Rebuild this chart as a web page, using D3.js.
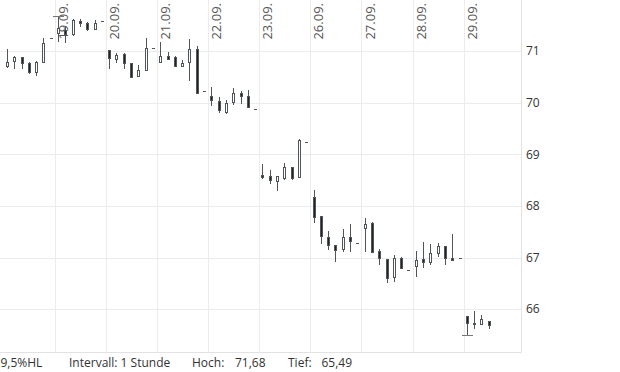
<!DOCTYPE html>
<html>
<head>
<meta charset="utf-8">
<script src="https://cdn.jsdelivr.net/npm/d3@7"></script>
<style>
  body { margin: 0; background: #fff; }
  svg { display: block; font-family: "Open Sans", sans-serif; }
</style>
</head>
<body>
<svg id="chart" width="620" height="372"></svg>
<script>
// trading days, 7 hourly slots per day (last slot = single tick)
var days = ["16.09.", "19.09.", "20.09.", "21.09.", "22.09.", "23.09.", "26.09.", "27.09.", "28.09.", "29.09."];
var slotsPerDay = 7;
var yTicks = [66, 67, 68, 69, 70, 71];

var opens = [
  70.71, 70.81, 70.88, 70.77, 70.59, 70.79, 71.25,
  71.35, 71.41, 71.34, 71.59, 71.55, 71.42, 71.58,
  71.02, 70.85, 70.95, 70.76, 70.52, 70.63, 71.06,
  70.79, 70.90, 70.88, 70.72, 70.79, 71.05, 70.22,
  70.13, 70.03, 69.82, 70.02, 70.19, 70.13, 69.88,
  68.60, 68.58, 68.49, 68.55, 68.75, 68.56, 69.23,
  68.17, 67.80, 67.40, 67.25, 67.17, 67.39, 67.29,
  67.58, 67.66, 67.12, 66.98, 66.63, 67.00, 66.76,
  66.84, 66.97, 66.92, 67.09, 67.22, 67.00, 67.00,
  65.86, 65.72, 65.71, 65.77
];
var highs = [
  71.04, 70.90, 70.89, 70.78, 70.81, 71.25, 71.25,
  71.68, 71.48, 71.62, 71.62, 71.57, 71.60, 71.58,
  71.03, 70.97, 70.97, 70.77, 70.73, 71.25, 71.06,
  71.18, 70.99, 70.90, 70.83, 71.23, 71.10, 70.22,
  70.30, 70.11, 70.05, 70.28, 70.23, 70.24, 69.88,
  68.81, 68.69, 68.58, 68.84, 68.76, 69.30, 69.23,
  68.31, 67.80, 67.51, 67.25, 67.55, 67.65, 67.29,
  67.76, 67.69, 67.16, 66.98, 67.05, 67.01, 66.76,
  67.12, 67.30, 67.27, 67.29, 67.22, 67.45, 67.00,
  65.86, 65.96, 65.88, 65.77
];
var lows = [
  70.67, 70.65, 70.65, 70.55, 70.52, 70.77, 71.25,
  71.18, 71.16, 71.29, 71.47, 71.39, 71.42, 71.58,
  70.65, 70.76, 70.65, 70.48, 70.51, 70.62, 71.06,
  70.79, 70.83, 70.70, 70.70, 70.42, 70.17, 70.22,
  69.93, 69.80, 69.79, 69.95, 69.97, 69.89, 69.88,
  68.53, 68.42, 68.29, 68.51, 68.51, 68.55, 69.23,
  67.67, 67.26, 67.14, 66.92, 67.11, 67.11, 67.29,
  67.11, 67.09, 66.85, 66.50, 66.53, 66.77, 66.76,
  66.63, 66.80, 66.85, 67.01, 66.85, 66.96, 67.00,
  65.49, 65.61, 65.71, 65.61
];
var closes = [
  70.79, 70.88, 70.77, 70.59, 70.79, 71.15, 71.25,
  71.44, 71.33, 71.60, 71.54, 71.42, 71.55, 71.58,
  70.86, 70.92, 70.76, 70.50, 70.63, 71.06, 71.06,
  70.90, 70.85, 70.72, 70.77, 71.05, 70.19, 70.22,
  70.05, 69.86, 70.00, 70.19, 70.13, 69.91, 69.88,
  68.56, 68.51, 68.58, 68.75, 68.55, 69.28, 69.23,
  67.79, 67.42, 67.25, 67.14, 67.39, 67.32, 67.29,
  67.65, 67.10, 67.00, 66.61, 67.00, 66.79, 66.76,
  66.96, 66.92, 67.08, 67.23, 66.99, 66.96, 67.00,
  65.74, 65.73, 65.80, 65.70
];

var infoLabel = "9,5%HL";
var intervalLabel = "Intervall: 1 Stunde";

var data = opens.map(function(o, i) {
  return {
    day: days[Math.floor(i / slotsPerDay)],
    slot: i % slotsPerDay,
    open: o, high: highs[i], low: lows[i], close: closes[i]
  };
});

var plotW = 521, plotH = 352;
var svg = d3.select("#chart");

var x0 = d3.scaleBand().domain(days).range([3.8, 514.8]).padding(0);
var x1 = d3.scaleBand().domain(d3.range(slotsPerDay)).range([0, x0.bandwidth()]).padding(0);
var y = d3.scaleLinear().domain([65.17, 71.99]).range([plotH, 0]);

function cx(d) { return Math.round(x0(d.day) + x1(d.slot) + x1.bandwidth() / 2 - 0.5) + 0.5; }
function py(v) { return Math.round(y(v)) + 0.5; }

// grid
var grid = svg.append("g").attr("stroke", "#ececec").attr("stroke-width", 1);
grid.selectAll("line.h").data(yTicks).enter().append("line")
  .attr("x1", 0).attr("x2", plotW)
  .attr("y1", function(d) { return py(d); }).attr("y2", function(d) { return py(d); });
grid.selectAll("line.v").data(days.slice(1)).enter().append("line")
  .attr("x1", function(d) { return Math.round(x0(d)) + 0.5; })
  .attr("x2", function(d) { return Math.round(x0(d)) + 0.5; })
  .attr("y1", 0).attr("y2", plotH);
svg.append("path")
  .attr("d", "M0," + (plotH + 0.5) + "H" + (plotW + 0.5) + "V0")
  .attr("fill", "none").attr("stroke", "#e2e2e2");

// day labels, rotated
svg.append("g").selectAll("text").data(days.slice(1)).enter().append("text")
  .attr("transform", function(d) { return "translate(" + (x0(d) + 13) + ",3) rotate(-90)"; })
  .attr("text-anchor", "end")
  .attr("font-size", 13)
  .attr("fill", "#555")
  .text(function(d) { return d; });

// y labels
svg.append("g").selectAll("text").data(yTicks).enter().append("text")
  .attr("x", 526).attr("y", function(d) { return y(d); })
  .attr("dy", "0.36em")
  .attr("font-size", 12)
  .attr("fill", "#333")
  .text(function(d) { return d; });

// candles
var stroke = "#50555a";
var c = svg.append("g").selectAll("g").data(data).enter().append("g");

c.filter(function(d) { return d.high !== d.low; }).append("line")
  .attr("x1", cx).attr("x2", cx)
  .attr("y1", function(d) { return Math.round(y(d.high)); })
  .attr("y2", function(d) { return Math.round(y(d.low)); })
  .attr("stroke", stroke);

c.filter(function(d) { return d.high !== d.low; }).append("rect")
  .attr("x", function(d) { return cx(d) - 1; })
  .attr("width", 2)
  .attr("y", function(d) { return Math.round(y(Math.max(d.open, d.close))) + 0.5; })
  .attr("height", function(d) { return Math.max(1, Math.round(y(Math.min(d.open, d.close))) - Math.round(y(Math.max(d.open, d.close)))); })
  .attr("fill", function(d) { return d.close >= d.open ? "#fff" : "#222"; })
  .attr("stroke", stroke);

// single tick slots
c.filter(function(d) { return d.high === d.low; }).append("line")
  .attr("x1", function(d) { return cx(d) - 1.5; })
  .attr("x2", function(d) { return cx(d) + 1.5; })
  .attr("y1", function(d) { return py(d.close); })
  .attr("y2", function(d) { return py(d.close); })
  .attr("stroke", stroke);

// high / low markers
var hi = d3.maxIndex(highs), lo = d3.minIndex(lows);
[[data[hi], data[hi].high], [data[lo], data[lo].low]].forEach(function(m) {
  svg.append("line")
    .attr("x1", cx(m[0]) - 5.5).attr("x2", cx(m[0]) + 5.5)
    .attr("y1", py(m[1])).attr("y2", py(m[1]))
    .attr("stroke", "#777");
});

// footer
var fmt = function(v) { return d3.format(".2f")(v).replace(".", ","); };
var foot = svg.append("g").attr("font-size", 12).attr("fill", "#333");
var footItems = [
  [0.5, infoLabel], [69, intervalLabel],
  [192, "Hoch:"], [235, fmt(highs[hi])],
  [288, "Tief:"], [321.5, fmt(lows[lo])]
];
foot.selectAll("text").data(footItems).enter().append("text")
  .attr("x", function(d) { return d[0]; })
  .attr("y", 367)
  .text(function(d) { return d[1]; });
</script>
</body>
</html>
